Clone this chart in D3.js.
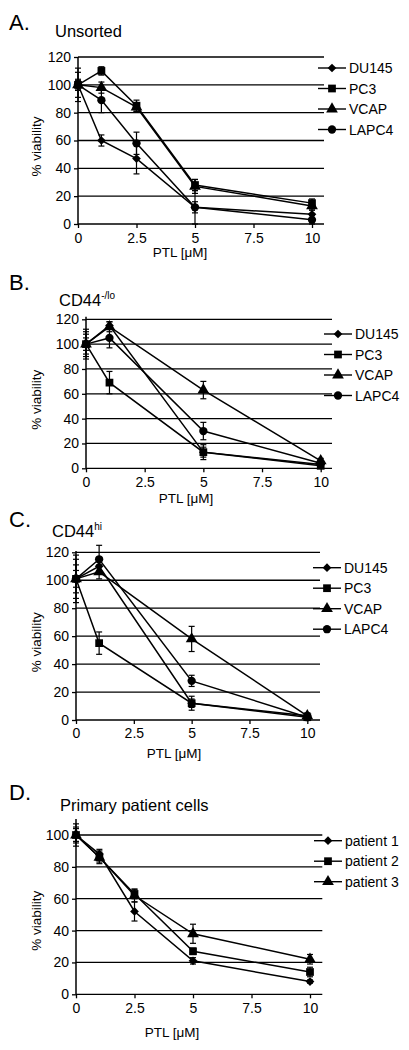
<!DOCTYPE html>
<html><head><meta charset="utf-8">
<script src="https://cdn.jsdelivr.net/npm/d3@7"></script>
<style>body{margin:0;background:#fff}svg{display:block}text{font-family:"Liberation Sans",Arial,sans-serif;fill:#000}</style>
</head><body>
<script>
// ---- data ----
const dosesA = [0, 1, 2.5, 5, 10];
const dosesBC = [0, 1, 5, 10];
const dosesD = [0, 1, 2.5, 5, 10];
const xTicks = [0, 2.5, 5, 7.5, 10];
const yTicks120 = [0, 20, 40, 60, 80, 100, 120];
const yTicks100 = [0, 20, 40, 60, 80, 100];
const cellLines = ["DU145", "PC3", "VCAP", "LAPC4"];
const patients = ["patient 1", "patient 2", "patient 3"];

const unsortedValues = [
  [100, 60, 47, 12, 7],
  [100, 110, 85, 28, 15],
  [100, 98, 84, 27, 13],
  [100, 89, 58, 12, 3]
];
const unsortedErrors = [
  [12, 4, 11, 12, 3],
  [3, 3, 4, 4, 3],
  [9, 4, 3, 5, 3],
  [4, 9, 8, 4, 3]
];
const cd44loValues = [
  [100, 115, 13, 3],
  [100, 69, 13, 2],
  [100, 114, 63, 6],
  [100, 105, 30, 4]
];
const cd44loErrors = [
  [12, 3, 4, 2],
  [8, 9, 6, 2],
  [5, 4, 7, 2],
  [10, 8, 7, 2]
];
const cd44hiValues = [
  [101, 110, 12, 3],
  [101, 55, 12, 2],
  [101, 106, 58, 3],
  [101, 115, 28, 2]
];
const cd44hiErrors = [
  [17, 4, 3, 2],
  [14, 8, 5, 2],
  [10, 5, 9, 2],
  [6, 10, 4, 2]
];
const patientValues = [
  [100, 88, 52, 21, 8],
  [100, 86, 63, 27, 14],
  [100, 86, 62, 38, 22]
];
const patientErrors = [
  [7, 3, 6, 2, 1],
  [5, 3, 3, 2, 3],
  [4, 4, 4, 6, 3]
];

// marker shapes: diamond = rotated square
const markers = [
  {type: d3.symbolSquare, size: 38, rot: 45},
  {type: d3.symbolSquare, size: 60, rot: 0},
  {type: d3.symbolTriangle, size: 60, rot: 0},
  {type: d3.symbolCircle, size: 54, rot: 0}
];

const svg = d3.select("body").append("svg").attr("width", 409).attr("height", 1050);

const panels = [
  {letter: "A.", title: "Unsorted", sup: null, letterY: 30, titleX: 55, titleY: 37,
   x0: 78, x1: 312, gridEnd: 324, yBottom: 224, yTop: 57, yMax: 120, axisMax: 120, yTicks: yTicks120,
   doses: dosesA, values: unsortedValues, errors: unsortedErrors, names: cellLines,
   legendX: 318, legendY: 68, legendStep: 20.5, tickLabelDy: 19, xTitleDy: 33, xTitleX: 180},
  {letter: "B.", title: "CD44", sup: "-/lo", letterY: 290, titleX: 59, titleY: 306,
   x0: 86, x1: 320.7, gridEnd: 332, yBottom: 468.3, yTop: 319.3, yMax: 120, axisMax: 122, yTicks: yTicks120,
   doses: dosesBC, values: cd44loValues, errors: cd44loErrors, names: cellLines,
   legendX: 324, legendY: 334, legendStep: 20.5, tickLabelDy: 19, xTitleDy: 35, xTitleX: 186},
  {letter: "C.", title: "CD44", sup: "hi", letterY: 527, titleX: 52, titleY: 537,
   x0: 76, x1: 307.3, gridEnd: 320, yBottom: 720, yTop: 552.3, yMax: 120, axisMax: 121, yTicks: yTicks120,
   doses: dosesBC, values: cd44hiValues, errors: cd44hiErrors, names: cellLines,
   legendX: 313, legendY: 567.7, legendStep: 20.5, tickLabelDy: 18, xTitleDy: 38, xTitleX: 174},
  {letter: "D.", title: "Primary patient cells", sup: null, letterY: 800, titleX: 60, titleY: 811,
   x0: 76, x1: 310, gridEnd: 322.3, yBottom: 994.3, yTop: 835, yMax: 100, axisMax: 110, yTicks: yTicks100,
   doses: dosesD, values: patientValues, errors: patientErrors, names: patients,
   legendX: 314, legendY: 840.7, legendStep: 20.5, tickLabelDy: 19, xTitleDy: 43, xTitleX: 172}
];

function drawMarker(sel, m, cx, cy) {
  sel.append("path").attr("transform", `translate(${cx},${cy}) rotate(${m.rot})`)
    .attr("d", d3.symbol(m.type, m.size)).attr("fill", "#000");
}

panels.forEach(p => {
  const g = svg.append("g");
  const x = d3.scaleLinear().domain([0, 10]).range([p.x0, p.x1]);
  const y = d3.scaleLinear().domain([0, p.yMax]).range([p.yBottom, p.yTop]);

  // panel letter and title
  g.append("text").attr("x", 9).attr("y", p.letterY).attr("font-size", 22).text(p.letter);
  const t = g.append("text").attr("x", p.titleX).attr("y", p.titleY).attr("font-size", 16.5).text(p.title);
  if (p.sup) t.append("tspan").attr("dy", -7).attr("font-size", 10).text(p.sup);

  // gridlines
  g.append("g").selectAll("line").data(p.yTicks).join("line")
    .attr("x1", p.x0).attr("x2", p.gridEnd)
    .attr("y1", d => y(d)).attr("y2", d => y(d))
    .attr("stroke", "#000").attr("stroke-width", 1.3);

  // y axis
  const ya = g.append("g").attr("transform", `translate(${p.x0},0)`)
    .call(d3.axisLeft(y).tickValues(p.yTicks).tickSize(4).tickPadding(3).tickSizeOuter(0));
  ya.select(".domain").remove();
  ya.append("line").attr("x1", 0).attr("x2", 0).attr("y1", y(0)).attr("y2", y(p.axisMax))
    .attr("stroke", "#000").attr("stroke-width", 1.5);
  ya.selectAll(".tick line").attr("stroke-width", 1.3);
  ya.selectAll("text").attr("font-size", 14).attr("font-family", "Liberation Sans, Arial, sans-serif").attr("fill", "#000");

  // x axis
  const xa = g.append("g").attr("transform", `translate(0,${p.yBottom})`)
    .call(d3.axisBottom(x).tickValues(xTicks).tickSize(4).tickPadding(p.tickLabelDy - 14).tickSizeOuter(0).tickFormat(d => String(d)));
  xa.select(".domain").remove();
  xa.selectAll(".tick line").attr("stroke-width", 1.3);
  xa.selectAll("text").attr("font-size", 14).attr("font-family", "Liberation Sans, Arial, sans-serif").attr("fill", "#000");

  // axis titles
  g.append("text").attr("transform", `translate(41,${(p.yBottom + p.yTop) / 2 + 6}) rotate(-90)`)
    .attr("text-anchor", "middle").attr("font-size", 13.5).text("% viability");
  const xt = g.append("text").attr("x", p.xTitleX).attr("y", p.yBottom + p.xTitleDy)
    .attr("text-anchor", "middle").attr("font-size", 13.5).text("PTL [");
  xt.append("tspan").text("\u03bcM]");

  // series
  const line = d3.line().x(d => x(d[0])).y(d => y(d[1]));
  p.values.forEach((vals, si) => {
    const pts = p.doses.map((d, i) => [d, vals[i], p.errors[si][i]]);
    const sg = g.append("g");
    sg.append("path").attr("d", line(pts)).attr("fill", "none").attr("stroke", "#000").attr("stroke-width", 1.5);
    // error bars
    const eb = sg.selectAll("g.eb").data(pts).join("g");
    eb.append("line").attr("x1", d => x(d[0])).attr("x2", d => x(d[0]))
      .attr("y1", d => y(d[1] - d[2])).attr("y2", d => y(d[1] + d[2])).attr("stroke", "#000").attr("stroke-width", 1.2);
    [1, -1].forEach(s => {
      eb.append("line").attr("x1", d => x(d[0]) - 3).attr("x2", d => x(d[0]) + 3)
        .attr("y1", d => y(d[1] + s * d[2])).attr("y2", d => y(d[1] + s * d[2]))
        .attr("stroke", "#000").attr("stroke-width", 1.2);
    });
    const m = markers[si];
    pts.forEach(d => drawMarker(sg, m, x(d[0]), y(d[1])));
  });

  // legend
  p.names.forEach((name, i) => {
    const ly = p.legendY + i * p.legendStep;
    const lg = g.append("g");
    lg.append("line").attr("x1", p.legendX).attr("x2", p.legendX + 28).attr("y1", ly).attr("y2", ly)
      .attr("stroke", "#000").attr("stroke-width", 1.4);
    drawMarker(lg, markers[i], p.legendX + 14, ly);
    lg.append("text").attr("x", p.legendX + 31).attr("y", ly + 5).attr("font-size", 14).text(name);
  });
});
</script>
</body></html>
